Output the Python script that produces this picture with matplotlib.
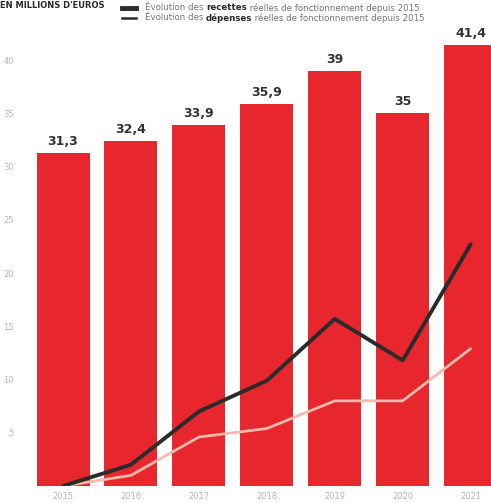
import matplotlib.pyplot as plt
from matplotlib.lines import Line2D

# Data
years = ["2015", "2016", "2017", "2018", "2019", "2020", "2021"]
budget = [31.3, 32.4, 33.9, 35.9, 39, 35, 41.4]
recettes = [0, 2.0, 7.0, 9.9, 15.7, 11.8, 22.7]
depenses = [0, 1.0, 4.6, 5.4, 8.0, 8.0, 12.9]
yticks = [5, 10, 15, 20, 25, 30, 35, 40]

bar_color = "#e8262d"
dark = "#2b2b2b"
pink = "#f6b9aa"
grey = "#b8b8b8"

fig = plt.figure(figsize=(4.91, 5.03), dpi=100)
ax = fig.add_axes([25 / 491, 17 / 503, 1 - 25 / 491, 446 / 503])

x = list(range(len(years)))
ax.bar(x, budget, width=0.78, color=bar_color, zorder=1)
ax.plot(x, depenses, color=pink, lw=2, zorder=2, solid_capstyle="round")
ax.plot(x, recettes, color=dark, lw=2.8, zorder=3, solid_capstyle="round")

for xi, v in zip(x, budget):
    ax.text(xi, v + 0.5, f"{v:g}".replace(".", ","), ha="center", va="bottom",
            fontsize=9, fontweight="bold", color="#333333", clip_on=False)

ax.set_xlim(-0.56, 6.30)
ax.set_ylim(0, 41.9)
ax.set_xticks(x)
ax.set_xticklabels(years, fontsize=6, color=grey)
ax.set_yticks(yticks)
ax.set_yticklabels([str(t) for t in yticks], fontsize=6, color=grey)
ax.tick_params(length=0, pad=4)
ax.tick_params(axis="y", pad=8)
for s in ax.spines.values():
    s.set_visible(False)

# Title (top-left)
fig.text(0.0, 0.999, "EN MILLIONS D'EUROS", fontsize=6, fontweight="bold",
         color=dark, va="top", ha="left")

# Custom legend
legend_rows = [
    (8, 3.5, "recettes", " réelles de fonctionnement depuis 2015"),
    (18, 1.8, "dépenses", " réelles de fonctionnement depuis 2015"),
]
for ypx, lw, word, rest in legend_rows:
    yf = 1 - ypx / 503
    fig.add_artist(Line2D([122 / 491, 136 / 491], [yf, yf], color=dark, lw=lw))
    t1 = fig.text(145 / 491, yf, "Évolution des ", fontsize=6.2, color="#777777", va="center")
    t2 = fig.text(0, 0, word, fontsize=6.2, fontweight="bold", color=dark)
    fig.canvas.draw()
    r = fig.canvas.get_renderer()
    bb = t1.get_window_extent(r)
    t2.set_position((bb.x1 / fig.bbox.width, yf))
    t2.set_va("center")
    fig.canvas.draw()
    bb2 = t2.get_window_extent(r)
    fig.text(bb2.x1 / fig.bbox.width, yf, rest, fontsize=6.2, color="#777777", va="center")

fig.savefig("out.png", dpi=100)
